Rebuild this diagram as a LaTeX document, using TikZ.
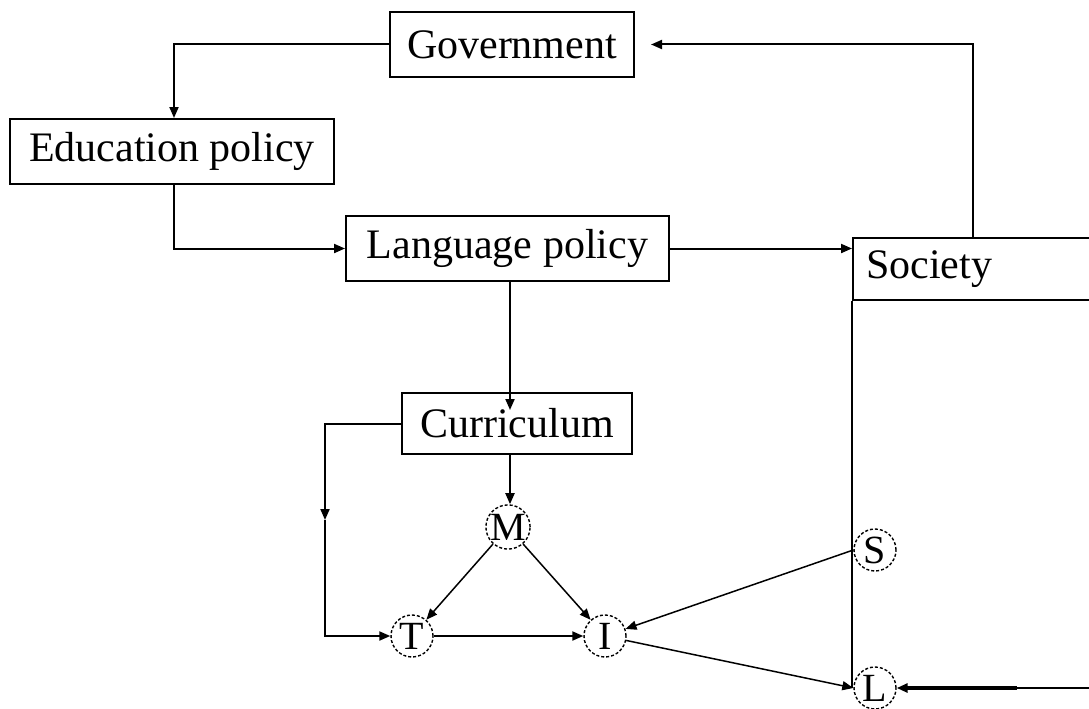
\documentclass[tikz,border=0pt]{standalone}
\usepackage{fontspec}
\setmainfont{Liberation Serif}
\usetikzlibrary{arrows.meta,calc}
\tikzset{
  box/.style={draw,line width=2pt,inner sep=0pt,font=\fontsize{42}{44}\selectfont},
  circ/.style={circle,draw,densely dashed,line width=1.4pt,inner sep=0pt,minimum size=42pt,font=\fontsize{40}{40}\selectfont},
  conn/.style={line width=2pt},
  arr/.style={conn,-{Triangle[length=11pt,width=9pt]}}
}
\begin{document}
\begin{tikzpicture}[x=1pt,y=-1pt]
\useasboundingbox (0,0) rectangle (1089,709);
\clip (0,0) rectangle (1089,709);
\fill[white] (0,0) rectangle (1089,709);
% boxes
\node[box,minimum width=244pt,minimum height=65pt] (gov) at (512,44.5) {Government};
\node[box,minimum width=324pt,minimum height=65pt] (edu) at (172,151.5) {Education policy};
\node[box,minimum width=323pt,minimum height=65pt] (lang) at (507.5,248.5) {Language policy};
\node[box,minimum width=230pt,minimum height=61pt] (cur) at (517,423.5) {Curriculum};
\node[box,minimum height=62pt,text width=241pt,align=left,inner xsep=13pt] (soc) at (986.5,269) {Society};
% circles
\node[circ] (M) at (508,527) {M};
\node[circ] (T) at (412,636) {T};
\node[circ] (I) at (605,636) {I};
\node[circ] (S) at (875,550) {S};
\node[circ] (L) at (875,688) {L};
% coordinates
\coordinate (g1) at (973,238);
\coordinate (c1) at (325,520);
\coordinate (r1) at (1089,688);
\coordinate (r2) at (1017,688);
% society vertical line
\draw[conn] (soc.south west) -- (soc.south west |- L.center);
% connectors
\draw[arr] (g1) |- ([xshift=16pt]gov.east);
\draw[arr] (gov.west) -| (edu.north -| 174,0);
\draw[arr] (edu.south -| 174,0) |- (lang.west);
\draw[arr] (lang.east) -- (lang.east -| soc.west);
\draw[arr] (lang.south -| 510,0) -- ([yshift=-18pt]cur.north -| 510,0);
\draw[arr] (cur.west) -| (c1);
\draw[arr] (c1) |- (T.west);
\draw[arr] (cur.south -| 510,0) -- (M.north -| 510,0);
\draw[arr,line width=1.5pt] (M) -- (T);
\draw[arr,line width=1.5pt] (M) -- (I);
\draw[arr] (T) -- (I);
\draw[arr,line width=1.5pt] (S.west) -- (I);
\draw[arr,line width=1.5pt] (I) -- (L.west);
\draw[line width=1.6pt] (r1) -- (r2);
\draw[arr,line width=3.5pt] (r2) -- (L.east);
\end{tikzpicture}
\end{document}
